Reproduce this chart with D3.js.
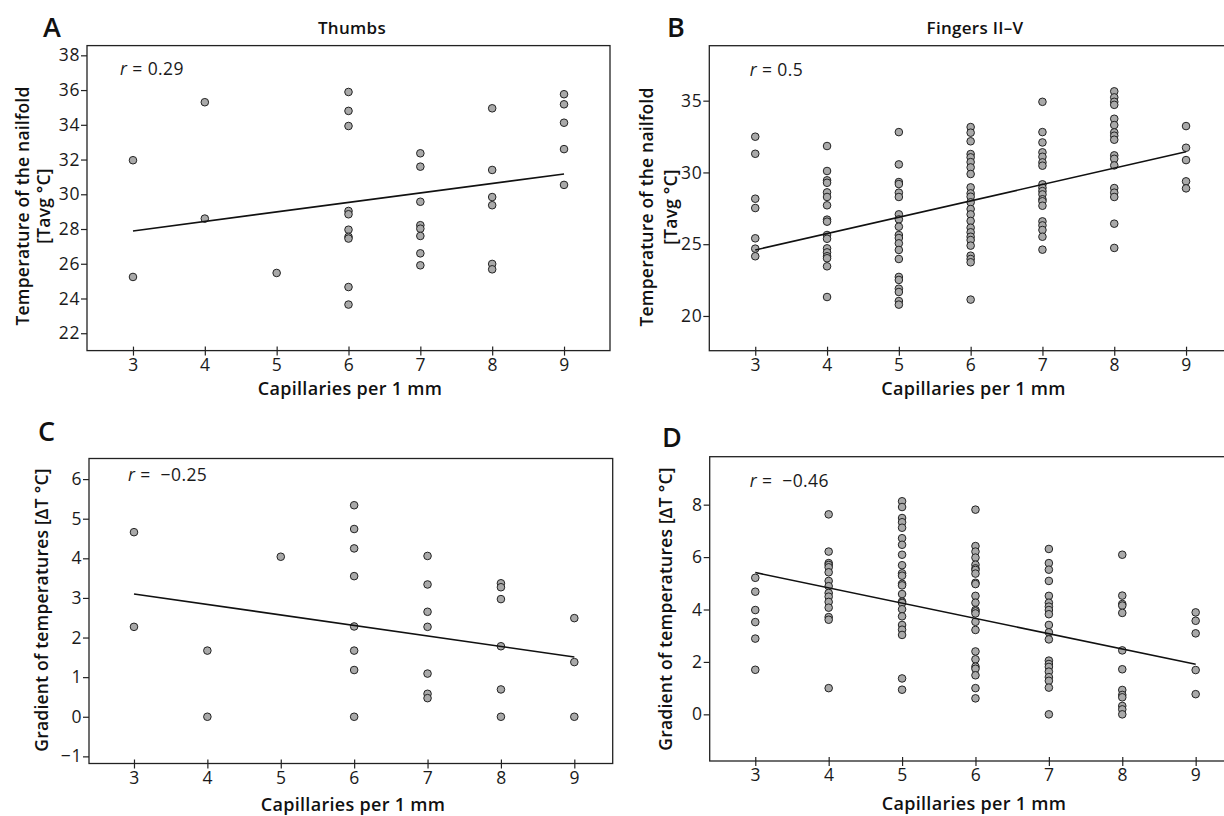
<!DOCTYPE html>
<html>
<head>
<meta charset="utf-8">
<script src="https://cdn.jsdelivr.net/npm/d3@7"></script>
<style>
  body { margin: 0; background: #fff; }
  svg { display: block; font-family: "Open Sans", "Noto Sans", sans-serif; }
</style>
</head>
<body>
<div id="chart"></div>
<script>
// capillaries per 1 mm (x groups)
const capillaries = [3, 4, 5, 6, 7, 8, 9];

// A: thumbs, nailfold temperature per x group
const thumbsTemp = [
  [31.96, 25.24],
  [35.3, 28.6],
  [25.47],
  [35.89, 34.8, 33.93, 29.04, 28.85, 27.96, 27.55, 27.45, 24.66, 23.65],
  [32.36, 31.59, 29.57, 28.22, 28.02, 27.6, 26.6, 25.91],
  [34.95, 31.4, 29.84, 29.37, 25.99, 25.68],
  [35.76, 35.18, 34.12, 32.6, 30.54]
];

// B: fingers II-V, nailfold temperature
const fingersTemp = [
  [32.49, 31.3, 28.17, 27.52, 25.41, 24.69, 24.16],
  [31.84, 30.1, 29.45, 29.28, 28.61, 28.29, 27.71, 26.71, 26.57, 25.64, 25.38, 24.71, 24.43, 24.16, 24.02, 23.46, 21.32],
  [32.81, 30.56, 29.33, 29.19, 28.59, 28.29, 27.08, 26.73, 26.22, 25.64, 25.43, 25.06, 24.6, 23.97, 22.72, 22.51, 21.9, 21.67, 21.04, 20.79],
  [33.16, 32.77, 32.17, 31.28, 31.05, 30.72, 30.35, 29.89, 28.96, 28.54, 28.31, 27.92, 27.45, 27.08, 26.62, 26.15, 25.83, 25.52, 25.29, 24.9, 24.2, 23.97, 23.74, 21.14],
  [34.92, 32.81, 32.09, 31.4, 31.09, 30.7, 30.47, 29.17, 28.93, 28.7, 28.47, 28.13, 27.99, 27.68, 26.59, 26.31, 25.99, 25.52, 24.62],
  [35.65, 35.23, 34.92, 34.71, 33.74, 33.3, 32.79, 32.56, 32.28, 31.19, 30.95, 30.49, 28.91, 28.59, 28.29, 26.43, 24.74],
  [33.23, 31.72, 30.86, 29.38, 28.89]
];

// C: thumbs, gradient of temperatures
const thumbsGrad = [
  [4.66, 2.27],
  [1.67, 0],
  [4.04],
  [5.34, 4.74, 4.25, 3.55, 2.28, 1.67, 1.18, 0],
  [4.06, 3.34, 2.65, 2.27, 1.09, 0.58, 0.47],
  [3.37, 3.27, 2.97, 1.78, 0.69, 0],
  [2.49, 1.38, 0]
];

// D: fingers II-V, gradient of temperatures
const fingersGrad = [
  [5.21, 4.68, 3.98, 3.52, 2.89, 1.7],
  [7.63, 6.21, 5.77, 5.7, 5.61, 5.42, 5.09, 4.89, 4.63, 4.49, 4.29, 4.07, 3.71, 3.61, 1.0],
  [8.13, 7.91, 7.49, 7.33, 7.12, 6.72, 6.47, 6.09, 5.69, 5.38, 5.29, 4.98, 4.92, 4.59, 4.3, 4.25, 4.01, 3.74, 3.41, 3.23, 3.03, 1.37, 0.94],
  [7.81, 6.42, 6.21, 5.98, 5.71, 5.57, 5.51, 5.37, 5.02, 4.97, 4.52, 4.26, 3.98, 3.93, 3.85, 3.53, 3.22, 2.4, 2.1, 1.82, 1.74, 1.49, 1.0, 0.61],
  [6.31, 5.77, 5.52, 5.09, 4.52, 4.26, 4.11, 3.98, 3.82, 3.41, 3.13, 2.86, 2.05, 1.92, 1.81, 1.63, 1.42, 1.28, 1.02, 0],
  [6.09, 4.53, 4.21, 4.15, 3.87, 2.44, 1.72, 0.93, 0.74, 0.65, 0.32, 0.19, 0],
  [3.89, 3.57, 3.09, 1.69, 0.77]
];

// regression line values at x = 3 and x = 9
const fitX = [3, 9];
const fitA = [27.89, 31.17];
const fitB = [24.6, 31.44];
const fitC = [3.1, 1.51];
const fitD = [5.41, 1.91];

const rValues = ["0.29", "0.5", "\u22120.25", "\u22120.46"];

const ticksTemp = [22, 24, 26, 28, 30, 32, 34, 36, 38];
const ticksTempB = [20, 25, 30, 35];
const ticksGradC = [-1, 0, 1, 2, 3, 4, 5, 6];
const ticksGradD = [0, 2, 4, 6, 8];

const W = 1224, H = 816;
const svg = d3.select("#chart").append("svg")
  .attr("width", W).attr("height", H);

const panels = [
  { letter: "A", title: "Thumbs", data: thumbsTemp, fit: fitA, r: rValues[0], yTicks: ticksTemp,
    box: { l: 87, r: 610, t: 45.6, b: 350.6 }, xDom: [2.36, 9.64], yDom: [21.0, 38.56],
    letterPos: [43, 37], rPos: [120, 75], xLab: [350, 395], titleX: 352,
    yLab: ["Temperature of the nailfold", "[Tavg °C]"], yLabX: [21.7, 43.3], yLabY: 206 },
  { letter: "B", title: "Fingers II\u2013V", data: fingersTemp, fit: fitB, r: rValues[1], yTicks: ticksTempB,
    box: { l: 709.3, r: 1232, t: 45.7, b: 350.7 }, xDom: [2.36, 9.64], yDom: [17.58, 38.83],
    letterPos: [667, 37], rPos: [749.7, 75.7], xLab: [973.5, 395], titleX: 975,
    yLab: ["Temperature of the nailfold", "[Tavg °C]"], yLabX: [645.5, 670], yLabY: 207 },
  { letter: "C", title: null, data: thumbsGrad, fit: fitC, r: rValues[2], yTicks: ticksGradC,
    box: { l: 89, r: 612.7, t: 458.5, b: 763.5 }, xDom: [2.387, 9.523], yDom: [-1.18, 6.52],
    letterPos: [38, 441], rPos: [128, 480.7], xLab: [353, 811],
    yLab: ["Gradient of temperatures [\u2206T °C]"], yLabX: [41], yLabY: 610 },
  { letter: "D", title: null, data: fingersGrad, fit: fitD, r: rValues[3], yTicks: ticksGradD,
    box: { l: 709.7, r: 1240, t: 456.7, b: 761 }, xDom: [2.379, 9.604], yDom: [-1.78, 9.83],
    letterPos: [662, 447], rPos: [749.7, 486.7], xLab: [974, 810],
    yLab: ["Gradient of temperatures [\u2206T °C]"], yLabX: [665], yLabY: 609 }
];

panels.forEach(p => {
  const g = svg.append("g");
  const x = d3.scaleLinear().domain(p.xDom).range([p.box.l, p.box.r]);
  const y = d3.scaleLinear().domain(p.yDom).range([p.box.b, p.box.t]);

  // frame
  g.append("rect")
    .attr("x", p.box.l).attr("y", p.box.t)
    .attr("width", p.box.r - p.box.l).attr("height", p.box.b - p.box.t)
    .attr("fill", "none").attr("stroke", "#222").attr("stroke-width", 1.3);

  // axes
  const xAxis = g.append("g")
    .attr("transform", `translate(0,${p.box.b})`)
    .call(d3.axisBottom(x).tickValues(capillaries).tickSize(5).tickSizeOuter(0).tickPadding(3));
  const yAxis = g.append("g")
    .attr("transform", `translate(${p.box.l},0)`)
    .call(d3.axisLeft(y).tickValues(p.yTicks).tickSize(6).tickSizeOuter(0).tickPadding(1));
  [xAxis, yAxis].forEach(a => {
    a.select(".domain").remove();
    a.selectAll("line").attr("stroke", "#222").attr("stroke-width", 1.2);
    a.selectAll("text").attr("fill", "#1a1a1a").attr("font-size", 17.5).attr("font-weight", 400)
      .attr("letter-spacing", 0.6).attr("font-family", "'Open Sans', sans-serif");
  });
  // x ticks cross the frame a little
  xAxis.selectAll(".tick line").attr("y1", -4).attr("y2", 5);

  // points
  const pts = [];
  p.data.forEach((vals, i) => vals.forEach(v => pts.push([capillaries[i], v])));
  g.append("g").selectAll("circle").data(pts).join("circle")
    .attr("cx", d => x(d[0])).attr("cy", d => y(d[1])).attr("r", 3.8)
    .attr("fill", "#a9a9a9").attr("stroke", "#222").attr("stroke-width", 1);

  // regression line
  g.append("path")
    .datum(fitX.map((xv, i) => [xv, p.fit[i]]))
    .attr("d", d3.line().x(d => x(d[0])).y(d => y(d[1])))
    .attr("fill", "none").attr("stroke", "#111").attr("stroke-width", 1.6);

  // r label (negative values have a wider gap after "=")
  const rt = g.append("text").attr("x", p.rPos[0]).attr("y", p.rPos[1])
    .attr("font-size", 17.5).attr("font-weight", 400).attr("letter-spacing", 0.4).attr("fill", "#1a1a1a");
  rt.append("tspan").attr("font-style", "italic").text("r");
  rt.append("tspan").text(p.r.startsWith("\u2212") ? " =\u00a0\u00a0" + p.r : " = " + p.r);

  // panel letter
  g.append("text").attr("x", p.letterPos[0]).attr("y", p.letterPos[1])
    .attr("font-size", 27).attr("font-weight", 600).attr("fill", "#111").text(p.letter);

  // title
  if (p.title) {
    g.append("text").attr("x", p.titleX).attr("y", 34)
      .attr("text-anchor", "middle").attr("font-size", 17).attr("font-weight", 600)
      .attr("letter-spacing", 0.3).attr("fill", "#111").text(p.title);
  }

  // x label
  g.append("text").attr("x", p.xLab[0]).attr("y", p.xLab[1])
    .attr("text-anchor", "middle").attr("font-size", 18).attr("font-weight", 600)
    .attr("letter-spacing", 0.3).attr("fill", "#111").text("Capillaries per 1 mm");

  // y label
  p.yLab.forEach((t, i) => {
    g.append("text")
      .attr("transform", `translate(${p.yLabX[i]},${p.yLabY}) rotate(-90)`)
      .attr("text-anchor", "middle").attr("dominant-baseline", "central")
      .attr("font-size", 17.5).attr("font-weight", 600).attr("letter-spacing", 0.2)
      .attr("fill", "#111").text(t);
  });
});
</script>
</body>
</html>
